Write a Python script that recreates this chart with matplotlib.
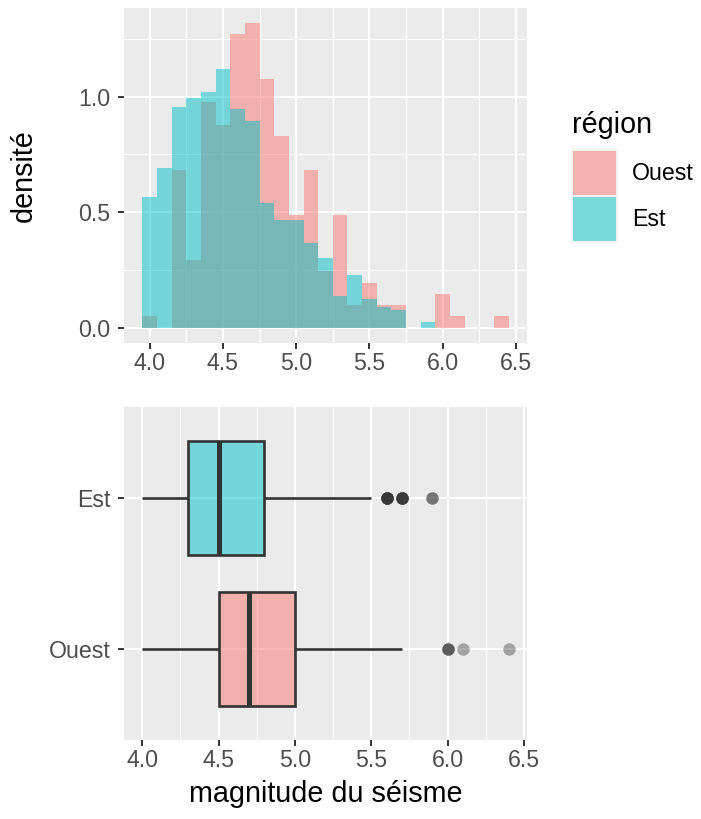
import matplotlib
matplotlib.use("Agg")
import matplotlib.pyplot as plt
from matplotlib.patches import Rectangle
import numpy as np

plt.rcParams['font.family'] = ['Liberation Sans', 'DejaVu Sans']

# ---- data ----
regions = ["Ouest", "Est"]
bin_centers = [4.0, 4.1, 4.2, 4.3, 4.4, 4.5, 4.6, 4.7, 4.8, 4.9, 5.0, 5.1, 5.2,
               5.3, 5.4, 5.5, 5.6, 5.7, 5.8, 5.9, 6.0, 6.1, 6.2, 6.3, 6.4]
density_ouest = [0.052, 0.0, 0.683, 0.294, 0.977, 0.878, 1.271, 1.318, 1.076,
                 0.830, 0.488, 0.683, 0.246, 0.488, 0.099, 0.193, 0.099, 0.099,
                 0.0, 0.0, 0.147, 0.052, 0.0, 0.0, 0.052]
density_est = [0.566, 0.692, 0.955, 0.994, 1.020, 1.120, 0.947, 0.895, 0.540,
               0.467, 0.467, 0.367, 0.303, 0.138, 0.228, 0.125, 0.091, 0.078,
               0.0, 0.026, 0.0, 0.0, 0.0, 0.0, 0.0]
bin_width = 0.1

# boxplot summaries: q1, median, q3, lower whisker, upper whisker
box_ouest = dict(q1=4.5, med=4.7, q3=5.0, lo=4.0, hi=5.7)
box_est = dict(q1=4.3, med=4.5, q3=4.8, lo=4.0, hi=5.5)
outliers_ouest = [6.0, 6.0, 6.0, 6.1, 6.4]
outliers_est = [5.6] * 7 + [5.7] * 6 + [5.9] * 2

x_ticks = [4.0, 4.5, 5.0, 5.5, 6.0, 6.5]
x_tick_labels = ["4.0", "4.5", "5.0", "5.5", "6.0", "6.5"]
y_ticks = [0.0, 0.5, 1.0]
y_tick_labels = ["0.0", "0.5", "1.0"]

col_ouest = "#F8766D"
col_est = "#00BFC4"
panel_bg = "#EBEBEB"
dark = "#333333"
tick_col = "#4D4D4D"

W, H = 701, 819
fig = plt.figure(figsize=(W / 100, H / 100), dpi=100)


def frac_box(x0, y0, x1, y1):
    return [x0 / W, 1 - y1 / H, (x1 - x0) / W, (y1 - y0) / H]


def style_axes(ax):
    ax.set_facecolor(panel_bg)
    for s in ax.spines.values():
        s.set_visible(False)
    ax.grid(True, which="major", color="white", linewidth=1.5)
    ax.grid(True, which="minor", color="white", linewidth=0.75)
    ax.set_axisbelow(True)
    ax.tick_params(which="major", length=4.3, width=1.4, color=dark,
                   labelsize=16.7, labelcolor=tick_col, pad=2.5)
    ax.tick_params(axis="y", which="major", pad=5.5)
    ax.tick_params(which="minor", length=0)


# ---- histogram ----
ax1 = fig.add_axes(frac_box(124, 8, 527, 343))
style_axes(ax1)
ax1.bar(bin_centers, density_ouest, width=bin_width, color=col_ouest,
        alpha=0.5, linewidth=0)
ax1.bar(bin_centers, density_est, width=bin_width, color=col_est,
        alpha=0.5, linewidth=0)
ax1.set_xlim(3.825, 6.575)
ax1.set_ylim(-0.0659, 1.384)
ax1.set_xticks(x_ticks)
ax1.set_xticklabels(x_tick_labels)
ax1.set_xticks([4.25, 4.75, 5.25, 5.75, 6.25], minor=True)
ax1.set_yticks(y_ticks)
ax1.set_yticklabels(y_tick_labels)
ax1.set_yticks([0.25, 0.75, 1.25], minor=True)
fig.text(24 / W, 1 - 175.5 / H, "densité", fontsize=20.7, rotation=90,
         ha="center", va="center")

# ---- boxplot ----
ax2 = fig.add_axes(frac_box(124, 407, 527, 740))
style_axes(ax2)
positions = {"Ouest": 1, "Est": 2}
boxes = {"Ouest": box_ouest, "Est": box_est}
fills = {"Ouest": col_ouest, "Est": col_est}
fliers = {"Ouest": outliers_ouest, "Est": outliers_est}
box_h = 0.75
for r in regions:
    y = positions[r]
    b = boxes[r]
    ax2.hlines(y, b["lo"], b["q1"], color=dark, linewidth=1.9, zorder=2)
    ax2.hlines(y, b["q3"], b["hi"], color=dark, linewidth=1.9, zorder=2)
    ax2.barh(y, b["q3"] - b["q1"], left=b["q1"], height=box_h,
             color=fills[r], alpha=0.5, linewidth=0, zorder=3)
    ax2.barh(y, b["q3"] - b["q1"], left=b["q1"], height=box_h,
             facecolor="none", edgecolor=dark, linewidth=1.9, zorder=4)
    ax2.vlines(b["med"], y - box_h / 2, y + box_h / 2, color=dark,
               linewidth=3.6, zorder=5)
    pts = fliers[r]
    ax2.scatter(pts, [y] * len(pts), s=80, color=dark, alpha=0.4,
                linewidths=0, zorder=5)
ax2.set_xlim(3.88, 6.52)
ax2.set_ylim(0.4, 2.6)
ax2.set_xticks(x_ticks)
ax2.set_xticklabels(x_tick_labels)
ax2.set_xticks([4.25, 4.75, 5.25, 5.75, 6.25], minor=True)
ax2.set_yticks([positions[r] for r in regions])
ax2.set_yticklabels(regions)
fig.text(325.5 / W, 1 - 801.5 / H, "magnitude du séisme", fontsize=20.7,
         ha="center", va="baseline")

# ---- legend ----
fig.text(572 / W, 1 - 133 / H, "région", fontsize=20.7, ha="left",
         va="baseline")
fig.add_artist(Rectangle((570.7 / W, 1 - 242.7 / H), 47.3 / W, 93.4 / H,
                         transform=fig.transFigure, facecolor="#F2F2F2",
                         edgecolor="none"))
for i, r in enumerate(regions):
    top = 151 + i * 46
    fig.add_artist(Rectangle((572.7 / W, 1 - (top + 44) / H), 43.3 / W,
                             44 / H, transform=fig.transFigure,
                             facecolor=fills[r], alpha=0.5, edgecolor="none"))
    fig.text(632 / W, 1 - (top + 23) / H, r, fontsize=16.7, ha="left",
             va="center")

fig.savefig("out.png", dpi=100)
